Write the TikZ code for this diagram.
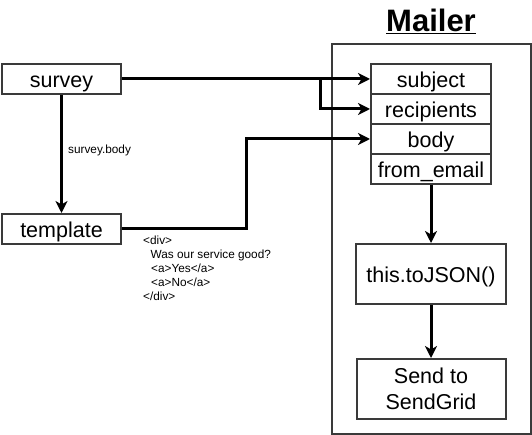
\documentclass[tikz,border=0pt]{standalone}
\usepackage{fontspec}
\setmainfont{Liberation Sans}
\usetikzlibrary{arrows.meta}
\definecolor{boxline}{HTML}{3A3A3A}
\tikzset{
  field/.style={draw=boxline, line width=2pt, fill=white, minimum width=120pt, minimum height=30pt, inner sep=0pt, text height=19.6pt, text depth=3pt, font=\fontsize{21.5}{24}\selectfont},
  bigbox/.style={draw=boxline, line width=2pt, fill=white, minimum width=150pt, minimum height=60pt, inner sep=0pt, align=center, font=\fontsize{21.5}{26}\selectfont},
  conn/.style={line width=3pt, -{Stealth[length=12pt,width=12pt,inset=3.5pt]}},
  small/.style={font=\fontsize{11.8}{14}\selectfont, inner sep=0pt},
}
\begin{document}
\begin{tikzpicture}[x=1pt,y=-1pt]
\useasboundingbox (0,0) rectangle (532,435);
\fill[white] (0,0) rectangle (532,435);
% container
\draw[boxline, line width=2pt] (332,44) rectangle (530.5,434);
\node[font=\fontsize{31}{34}\bfseries, inner sep=0pt] (title) at (431,21) {\underline{Mailer}};
% left nodes
\node[field, minimum width=119pt] (survey) at (61.5,79) {survey};
\node[field, minimum width=119pt] (template) at (61.5,229) {template};
% fields
\node[field] (subject) at (431,79) {subject};
\node[field] (recipients) at (431,109) {recipients};
\node[field] (body) at (431,139) {body};
\node[field] (from) at (431,169) {from\_email};
\node[bigbox, text height=19.6pt, text depth=3pt] (tojson) at (431,274) {this.toJSON()};
\node[bigbox, minimum width=149pt] (sendgrid) at (431,389) {Send to\\SendGrid};
% coordinates
\coordinate (j1) at (320.5,79);
\coordinate (t1) at (246.5,229);
% connectors
\draw[conn] (survey.east) -- (subject.west);
\draw[conn] (j1) |- (recipients.west);
\draw[conn] (template.east) -- (t1) |- (body.west);
\draw[conn] (survey.south) -- (template.north);
\draw[conn] (from.south) -- (tojson.north);
\draw[conn] (tojson.south) -- (sendgrid.north);
% labels
\node[small, anchor=west] (lbl) at (68,150) {survey.body};
\node[small, anchor=north west, align=left] (code) at (143,236) {<div>\\\hspace{7.5pt}Was our service good?\\\hspace{8pt}<a>Yes</a>\\\hspace{8pt}<a>No</a>\\</div>};
\end{tikzpicture}
\end{document}
